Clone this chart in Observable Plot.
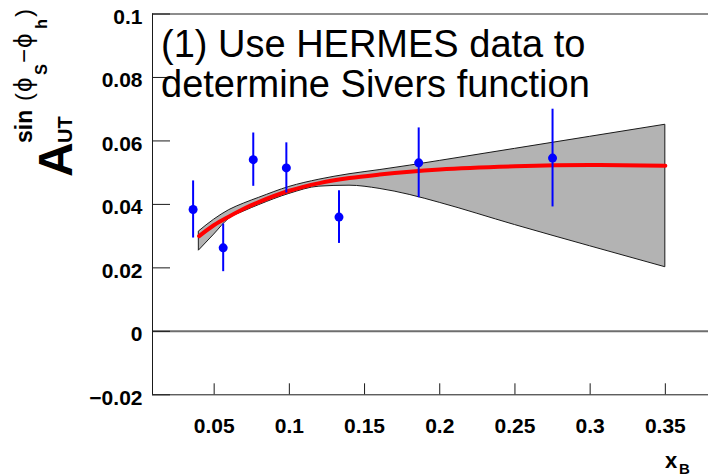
<!DOCTYPE html>
<html>
<head>
<meta charset="utf-8">
<script src="https://cdn.jsdelivr.net/npm/d3@7"></script>
<script src="https://cdn.jsdelivr.net/npm/@observablehq/plot@0.6"></script>
<style>
  body { margin: 0; background: #fff; }
  #chart { width: 708px; height: 476px; overflow: hidden; }
  #chart svg { display: block; }
</style>
</head>
<body>
<div id="chart"></div>
<script>
// HERMES Sivers asymmetry vs x_B
const xB      = [0.036, 0.056, 0.076, 0.098, 0.133, 0.186, 0.275];
const asym    = [0.0384, 0.0263, 0.0541, 0.0515, 0.0360, 0.0531, 0.0546];
const asymErr = [0.0090, 0.0075, 0.0084, 0.0079, 0.0083, 0.0110, 0.0154];

// Fitted Sivers asymmetry and its uncertainty band
const fitX       = [0.04, 0.05, 0.06, 0.07, 0.08, 0.10, 0.12, 0.14, 0.16, 0.18, 0.20, 0.25, 0.30, 0.35];
const fitCentral = [0.0300, 0.0335, 0.0362, 0.0387, 0.0408, 0.0443, 0.0467, 0.0483, 0.0494, 0.0503, 0.0510, 0.0520, 0.0524, 0.0522];
const fitUpper   = [0.0315, 0.0352, 0.0382, 0.0403, 0.0421, 0.0455, 0.0478, 0.0495, 0.0508, 0.0522, 0.0537, 0.0575, 0.0613, 0.0651];
const fitLower   = [0.0255, 0.0305, 0.0355, 0.0378, 0.0398, 0.0433, 0.0456, 0.0459, 0.0449, 0.0430, 0.0405, 0.0335, 0.0268, 0.0202];

const xTicks = [0.05, 0.1, 0.15, 0.2, 0.25, 0.3, 0.35];
const yTicks = [-0.02, 0, 0.02, 0.04, 0.06, 0.08, 0.1];
const xDomain = [0.009, 0.3787];
const yDomain = [-0.02, 0.1];

const points = xB.map((x, i) => ({x, y: asym[i], e: asymErr[i]}));
const band = fitX.map((x, i) => ({x, c: fitCentral[i], hi: fitUpper[i], lo: fitLower[i]}));

const W = 708, H = 476;
const mL = 152, mR = 0, mT = 13.5, mB = 81.7;
const plotW = W - mL - mR, plotH = H - mT - mB;
const font = "'Liberation Sans', Arial, Helvetica, sans-serif";

// shortest decimal form, with a true minus sign
const fmt = d => (d < 0 ? "\u2212" : "") + String(Math.abs(d));

const chart = Plot.plot({
  width: W, height: H,
  marginLeft: mL, marginRight: mR, marginTop: mT, marginBottom: mB,
  style: {fontFamily: font, background: "white", color: "black", overflow: "visible"},
  x: {domain: xDomain},
  y: {domain: yDomain},
  marks: [
    // uncertainty band with outlined edges
    Plot.areaY(band, {x: "x", y1: "lo", y2: "hi", fill: "#b3b3b3", stroke: "#1a1a1a", strokeWidth: 1, curve: "monotone-x"}),
    // zero line
    Plot.ruleY([0], {stroke: "#6e6e6e", strokeWidth: 2}),
    // central fit
    Plot.line(band, {x: "x", y: "c", stroke: "#ff0000", strokeWidth: 4, curve: "monotone-x"}),
    // data with error bars
    Plot.ruleX(points, {x: "x", y1: d => d.y - d.e, y2: d => d.y + d.e, stroke: "#0000ff", strokeWidth: 2}),
    Plot.dot(points, {x: "x", y: "y", r: 4.5, fill: "#0000ff", stroke: "none"}),
    // inward ticks
    Plot.gridY(yTicks, {stroke: "#1a1a1a", strokeOpacity: 1, strokeWidth: 1, insetRight: plotW - 18}),
    Plot.gridX(xTicks, {stroke: "#1a1a1a", strokeOpacity: 1, strokeWidth: 1, insetTop: plotH - 11}),
    // frame: left, bottom, top
    Plot.ruleX([xDomain[0]], {stroke: "#1a1a1a", strokeWidth: 1}),
    Plot.ruleY([yDomain[0]], {stroke: "#1a1a1a", strokeWidth: 1}),
    Plot.ruleY([yDomain[1]], {stroke: "#1a1a1a", strokeWidth: 1}),
    // tick labels
    Plot.axisX(xTicks, {tickSize: 0, tickPadding: 23.4, fontSize: 21, fontWeight: "bold", label: null, tickFormat: fmt}),
    Plot.axisY(yTicks, {tickSize: 0, tickPadding: 10, fontSize: 21, fontWeight: "bold", label: null, dy: 3, tickFormat: fmt}),
    // annotation
    Plot.text(["(1) Use HERMES data to\ndetermine Sivers function"], {
      frameAnchor: "top-left", textAnchor: "start", lineAnchor: "top",
      dx: 8.5, dy: 14.3, fontSize: 38, lineHeight: 40 / 38, fill: "black"
    })
  ]
});

document.getElementById("chart").appendChild(chart);

// Axis titles with sub/superscripts
const svg = d3.select(chart);

const yTitle = svg.append("text")
  .attr("transform", "translate(72,177) rotate(-90)")
  .attr("font-family", font)
  .attr("text-anchor", "start")
  .attr("fill", "black");
yTitle.append("tspan").attr("x", 0).attr("y", 0).attr("font-size", 48).attr("font-weight", "bold").text("A");
yTitle.append("tspan").attr("x", 34).attr("y", 0).attr("font-size", 20).attr("font-weight", "bold").text("UT");
yTitle.append("tspan").attr("x", 34).attr("y", -40.3).attr("font-size", 23).attr("font-weight", "bold").text("sin");
yTitle.append("tspan").attr("x", 76).attr("y", -40.3).attr("font-size", 24).text("(");
yTitle.append("tspan").attr("x", 85).attr("y", -40.3).attr("font-size", 26).text("\u03D5");
yTitle.append("tspan").attr("x", 102).attr("y", -25).attr("font-size", 16.5).attr("font-weight", "bold").text("S");
yTitle.append("tspan").attr("x", 114).attr("y", -40.3).attr("font-size", 24).text("\u2212");
yTitle.append("tspan").attr("x", 129).attr("y", -40.3).attr("font-size", 26).text("\u03D5");
yTitle.append("tspan").attr("x", 148).attr("y", -25).attr("font-size", 16.5).attr("font-weight", "bold").text("h");
yTitle.append("tspan").attr("x", 160).attr("y", -40.3).attr("font-size", 24).text(")");

const xTitle = svg.append("text")
  .attr("font-family", font)
  .attr("font-weight", "bold")
  .attr("text-anchor", "start")
  .attr("fill", "black");
xTitle.append("tspan").attr("x", 665).attr("y", 468).attr("font-size", 22).text("x");
xTitle.append("tspan").attr("x", 679).attr("y", 474).attr("font-size", 15).text("B");
</script>
</body>
</html>
